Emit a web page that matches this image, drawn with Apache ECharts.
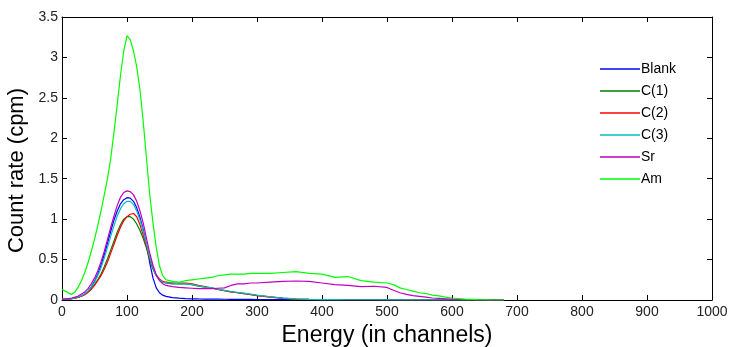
<!DOCTYPE html>
<html>
<head>
<meta charset="utf-8">
<script src="https://cdn.jsdelivr.net/npm/echarts@6/dist/echarts.min.js"></script>
<style>html,body{margin:0;padding:0;background:#fff}#c{width:737px;height:347px}</style>
</head>
<body>
<div id="c"></div>
<script>
const channels = [0,5,10,15,20,25,30,35,40,45,50,55,60,65,70,75,80,85,90,95,100,105,110,115,120,125,130,135,140,145,150,155,160,170,180,190,200,210,220,230,240,250,260,270,280,290,300,320,340,360,380,400,420,440,460,480,500,510,520,530,540,550,560,570,580,590,600,620,640,660,680];

const blank = [0.005,0.008,0.012,0.018,0.025,0.035,0.05,0.075,0.11,0.16,0.23,0.32,0.43,0.56,0.7,0.85,0.99,1.1,1.19,1.24,1.265,1.26,1.22,1.14,1.02,0.87,0.68,0.46,0.27,0.15,0.09,0.06,0.045,0.03,0.022,0.018,0.015,0.013,0.012,0.011,0.01,0.009,0.008,0.008,0.007,0.007,0.006,0.006,0.005,0.005,0.004,0.004,0.004,0.003,0.003,0.003,0.003,0.002,0.002,0.002,0.002,0.002,0.002,0.002,0.002,0.002,0.002,0.001,0.001,0,0];

const c1 = [0.008,0.01,0.013,0.018,0.025,0.035,0.05,0.07,0.1,0.14,0.19,0.25,0.32,0.41,0.51,0.62,0.73,0.84,0.93,1.0,1.03,1.03,1.0,0.94,0.86,0.76,0.64,0.5,0.38,0.3,0.25,0.22,0.21,0.2,0.2,0.2,0.19,0.17,0.16,0.145,0.13,0.115,0.1,0.09,0.08,0.07,0.058,0.038,0.022,0.012,0.007,0.005,0.004,0.004,0.003,0.003,0.003,0.002,0.002,0.002,0.002,0.002,0.002,0.002,0.002,0.002,0.002,0.002,0.001,0.001,0];

const c2 = [0.008,0.01,0.013,0.018,0.024,0.033,0.047,0.066,0.094,0.13,0.18,0.24,0.3,0.38,0.47,0.58,0.69,0.8,0.9,0.98,1.03,1.06,1.07,1.03,0.93,0.8,0.66,0.52,0.4,0.31,0.26,0.23,0.22,0.21,0.21,0.21,0.2,0.18,0.165,0.15,0.13,0.115,0.1,0.09,0.08,0.065,0.055,0.036,0.021,0.012,0.007,0.005,0.004,0.004,0.003,0.003,0.003,0.003,0.003,0.002,0.002,0.002,0.002,0.002,0.002,0.002,0.002,0.001,0.001,0.001,0];

const c3 = [0.006,0.008,0.012,0.018,0.026,0.037,0.053,0.077,0.11,0.16,0.22,0.3,0.4,0.52,0.65,0.79,0.92,1.04,1.13,1.19,1.22,1.22,1.18,1.1,0.99,0.85,0.69,0.53,0.4,0.3,0.25,0.22,0.21,0.21,0.2,0.2,0.19,0.175,0.16,0.15,0.135,0.12,0.105,0.095,0.085,0.072,0.06,0.04,0.024,0.013,0.008,0.005,0.004,0.003,0.003,0.003,0.002,0.002,0.002,0.002,0.002,0.002,0.002,0.002,0.002,0.001,0.001,0.001,0.001,0,0];

const sr = [0.01,0.012,0.018,0.025,0.035,0.05,0.075,0.1,0.14,0.2,0.27,0.36,0.47,0.6,0.75,0.9,1.04,1.17,1.27,1.33,1.35,1.34,1.3,1.22,1.1,0.95,0.76,0.58,0.43,0.31,0.24,0.2,0.18,0.165,0.155,0.15,0.145,0.14,0.14,0.14,0.145,0.15,0.18,0.2,0.2,0.21,0.21,0.22,0.23,0.235,0.23,0.21,0.19,0.18,0.165,0.17,0.155,0.12,0.09,0.07,0.055,0.045,0.035,0.025,0.02,0.015,0.01,0.006,0.003,0.001,0];

const am = [0.13,0.11,0.085,0.07,0.1,0.16,0.24,0.34,0.46,0.6,0.75,0.92,1.1,1.3,1.5,1.75,2.08,2.42,2.78,3.08,3.27,3.22,3.08,2.88,2.6,2.2,1.75,1.3,0.95,0.65,0.42,0.3,0.25,0.23,0.22,0.24,0.25,0.26,0.27,0.28,0.3,0.31,0.32,0.32,0.32,0.33,0.33,0.33,0.34,0.35,0.33,0.32,0.28,0.29,0.24,0.22,0.21,0.19,0.15,0.13,0.11,0.09,0.08,0.06,0.05,0.035,0.025,0.012,0.005,0.002,0];

const seriesNames = ['Blank','C(1)','C(2)','C(3)','Sr','Am'];
const seriesValues = [blank, c1, c2, c3, sr, am];
const seriesColors = ['#0000ff','#008000','#ff0000','#00bfbf','#bf00bf','#00ff00'];

const xTicks = {min:0, max:1000, interval:100};
const yTicks = {min:0, max:3.5, interval:0.5};

const chart = echarts.init(document.getElementById('c'), null, {renderer:'canvas'});
const font = 'Liberation Sans, Arial, sans-serif';
const axisLine = {show:true, onZero:false, lineStyle:{color:'#000', width:1}};
const axisTick = {show:true, inside:true, length:5, lineStyle:{color:'#000'}};
chart.setOption({
  animation:false,
  backgroundColor:'#fff',
  grid:{left:62, right:25, top:17, bottom:47, containLabel:false, outerBoundsMode:'none'},
  legend:{
    orient:'vertical', left:595, top:57,
    icon:'rect', itemWidth:40, itemHeight:1.5, itemGap:8,
    textStyle:{fontFamily:font, fontSize:14, lineHeight:14, color:'#000', padding:[0,0,0,-4]},
    data: seriesNames
  },
  xAxis:[{
    type:'value', position:'bottom', min:xTicks.min, max:xTicks.max, interval:xTicks.interval,
    name:'Energy (in channels)', nameLocation:'middle', nameGap:19,
    nameTextStyle:{fontFamily:font, fontSize:23, color:'#000'},
    axisLine, axisTick,
    axisLabel:{fontFamily:font, fontSize:14, color:'#222', margin:5, formatter:(v)=>String(v)},
    splitLine:{show:false}
  },{
    type:'value', position:'top', min:xTicks.min, max:xTicks.max, interval:xTicks.interval,
    axisLine, axisTick,
    axisLabel:{show:false}, splitLine:{show:false}
  }],
  yAxis:[{
    type:'value', position:'left', min:yTicks.min, max:yTicks.max, interval:yTicks.interval,
    name:'Count rate (cpm)', nameLocation:'middle', nameGap:29, nameRotate:90,
    nameTextStyle:{fontFamily:font, fontSize:22, color:'#000', padding:[0,24,0,0]},
    axisLine, axisTick,
    axisLabel:{fontFamily:font, fontSize:14, color:'#222', margin:4},
    splitLine:{show:false}
  },{
    type:'value', position:'right', min:yTicks.min, max:yTicks.max, interval:yTicks.interval,
    axisLine, axisTick,
    axisLabel:{show:false}, splitLine:{show:false}
  }],
  series: seriesNames.map((name, i) => ({
    name, type:'line', xAxisIndex:0, yAxisIndex:0,
    symbol:'none', showSymbol:false,
    color: seriesColors[i],
    lineStyle:{width:1.2, color: seriesColors[i]},
    data: channels.map((c, j) => [c, seriesValues[i][j]])
  }))
});
</script>
</body>
</html>
